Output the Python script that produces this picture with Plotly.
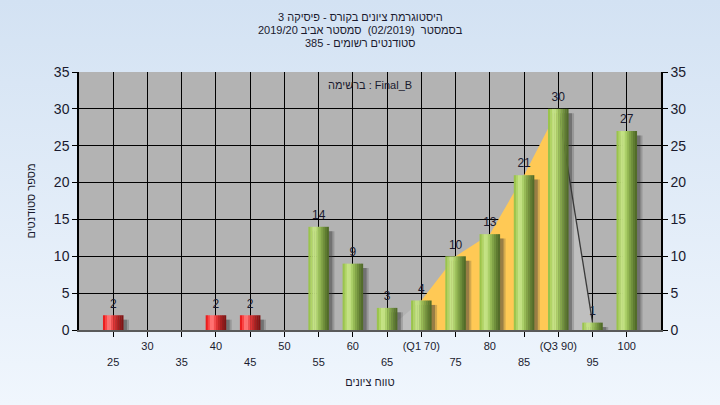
import base64
import plotly.graph_objects as go

# ---------------- data ----------------
categories = [25, 30, 35, 40, 45, 50, 55, 60, 65, 70, 75, 80, 85, 90, 95, 100]
counts = [2, 0, 0, 2, 2, 0, 14, 9, 3, 4, 10, 13, 21, 30, 1, 27]
pass_grade = 55
q1 = 70
q3 = 90

row1_vals = [30, 40, 50, 60, 70, 80, 90, 100]
row1_text = ["30", "40", "50", "60", "(Q1 70)", "80", "(Q3 90)", "100"]
row2_vals = [25, 35, 45, 55, 65, 75, 85, 95]
row2_text = ["25", "35", "45", "55", "65", "75", "85", "95"]
y_ticks = [0, 5, 10, 15, 20, 25, 30, 35]

title_lines = [
    "היסטוגרמת ציונים בקורס - פיסיקה 3",
    "בסמסטר  (02/2019)  סמסטר אביב 2019/20",
    "סטודנטים רשומים - 385",
]
list_label = "ברשימה : Final_B"
x_title = "טווח ציונים"
y_title = "מספר סטודנטים"

# ---------------- style ----------------
FONT = "Liberation Sans, Arial, sans-serif"
TXT = "#1a1a2e"
BAR_W = 3.0
green_stripes = ["#9ac44c", "#b0d466", "#c4e284", "#c2e082", "#acd06a", "#96ba56",
                 "#82a448", "#70903c", "#5f7c31", "#526c29"]
red_stripes = ["#ea1e1e", "#fa4444", "#ff7070", "#ff7272", "#f24e4e", "#dc3434",
               "#c22828", "#a81e1e", "#921818", "#801414"]

L, R, T, B = 79, 59, 72, 75
W, H = 720, 405
pw, ph = W - L - R, H - T - B

fig = go.Figure()

# ---- main subplot (x, y): interquartile area, drawn beneath the bars ----
iq_x = [c for c in categories if q1 <= c <= q3]
iq_y = [counts[categories.index(c)] for c in iq_x]
fig.add_trace(go.Scatter(x=[q1 - 5, q1], y=[0, counts[categories.index(q1)]],
                         mode="lines", line=dict(width=0), fill="tozeroy",
                         fillcolor="#bfbfbf", hoverinfo="skip", showlegend=False))
fig.add_trace(go.Scatter(x=[q3, q3 + 5],
                         y=[counts[categories.index(q3)], counts[categories.index(q3 + 5)]],
                         mode="lines", line=dict(width=1.3, color="#3a3a3a"), fill="tozeroy",
                         fillcolor="#bfbfbf", hoverinfo="skip", showlegend=False))
fig.add_trace(go.Scatter(x=iq_x, y=iq_y, mode="lines", line=dict(width=0),
                         fill="tozeroy", fillcolor="#ffc955", hoverinfo="skip", showlegend=False))

# ---- overlay subplot (x2, y2): bars, shadows, labels ----
for off, alpha in [(0.8, 0.22), (0.5, 0.38)]:
    fig.add_trace(go.Bar(x=categories, y=counts, base=[-0.6] * len(counts),
                         offset=-BAR_W / 2 + off, width=BAR_W, xaxis="x2", yaxis="y2",
                         marker=dict(color=f"rgba(55,55,55,{alpha})", line=dict(width=0)),
                         hoverinfo="skip", showlegend=False))

n = len(green_stripes)
sw = BAR_W / n
for i in range(n):
    cols = [green_stripes[i] if c >= pass_grade else red_stripes[i] for c in categories]
    w = sw + (0.04 if i < n - 1 else 0)
    fig.add_trace(go.Bar(x=categories, y=counts, offset=-BAR_W / 2 + i * sw, width=w,
                         xaxis="x2", yaxis="y2",
                         marker=dict(color=cols, line=dict(width=0)),
                         hoverinfo="skip", showlegend=False))

fig.add_trace(go.Scatter(x=categories, y=counts, mode="markers+text",
                         marker=dict(size=6, color="rgba(0,0,0,0)"),
                         text=[str(v) if v > 0 else "" for v in counts],
                         textposition="top center", xaxis="x2", yaxis="y2",
                         textfont=dict(family=FONT, size=12, color=TXT),
                         hoverinfo="skip", showlegend=False))

# page gradient background
svg = ('<svg xmlns="http://www.w3.org/2000/svg" width="720" height="405">'
       '<defs><linearGradient id="g" x1="0" y1="0" x2="0" y2="1">'
       '<stop offset="0" stop-color="#d3e2f3"/><stop offset="1" stop-color="#f0f6fd"/>'
       '</linearGradient></defs><rect width="720" height="405" fill="url(#g)"/></svg>')
src = "data:image/svg+xml;base64," + base64.b64encode(svg.encode()).decode()


def py(px):
    """pixel row (from top of page) -> paper y"""
    return 1 - (px - T) / ph


annotations = [dict(text=t, xref="paper", yref="paper", x=0.5 - 10 / pw, y=py(yy),
                    xanchor="center", yanchor="middle", showarrow=False,
                    font=dict(family=FONT, size=11, color=TXT))
               for t, yy in zip(title_lines, [17, 30, 43])]
annotations.append(dict(text=list_label, xref="paper", yref="paper", x=0.5, y=py(85),
                        xanchor="center", yanchor="middle", showarrow=False,
                        font=dict(family=FONT, size=11, color=TXT)))

axis_font = dict(family=FONT, size=11, color=TXT)
fig.update_layout(
    width=W, height=H,
    margin=dict(l=L, r=R, t=T, b=B, autoexpand=False),
    paper_bgcolor="#e2ecf8", plot_bgcolor="rgba(0,0,0,0)",
    barmode="overlay",
    font=dict(family=FONT, color=TXT),
    images=[dict(source=src, xref="paper", yref="paper", x=-L / pw, y=1 + T / ph,
                 sizex=W / pw, sizey=H / ph, sizing="stretch", layer="below",
                 xanchor="left", yanchor="top")],
    shapes=[dict(type="rect", xref="paper", yref="paper", x0=0, x1=1, y0=0, y1=1,
                 fillcolor="#b3b3b3", line=dict(width=0), layer="below")],
    xaxis=dict(range=[20, 105], tickmode="array", tickvals=categories,
               ticktext=[row1_text[row1_vals.index(c)] if c in row1_vals else "" for c in categories],
               showgrid=True, gridcolor="#000000", gridwidth=1,
               ticks="outside", ticklen=5, tickcolor="#000000",
               showline=True, linecolor="#5a5a5a", linewidth=1.5,
               tickfont=axis_font, zeroline=False, fixedrange=True),
    xaxis2=dict(range=[20, 105], overlaying="x", side="bottom", anchor="y2",
                tickmode="array", tickvals=row2_vals, ticktext=row2_text,
                ticks="outside", ticklen=5, tickcolor="rgba(0,0,0,0)",
                ticklabelstandoff=17, showgrid=False, showline=False, zeroline=False,
                tickfont=axis_font,
                title=dict(text=x_title, standoff=11, font=axis_font)),
    yaxis=dict(range=[0, 35], tickmode="array", tickvals=y_ticks,
               showgrid=True, gridcolor="#000000", gridwidth=1,
               ticks="outside", ticklen=5, tickcolor="#000000",
               showline=True, linecolor="#000000", linewidth=1.5,
               tickfont=dict(family=FONT, size=14, color=TXT), zeroline=False,
               title=dict(text=y_title, standoff=16, font=axis_font)),
    yaxis2=dict(range=[0, 35], overlaying="y", side="right", anchor="x2",
                tickmode="array", tickvals=y_ticks, showgrid=False,
                ticks="outside", ticklen=5, tickcolor="#000000",
                showline=True, linecolor="#000000", linewidth=1.5,
                tickfont=dict(family=FONT, size=14, color=TXT), zeroline=False),
    annotations=annotations,
)

fig.write_html("out.html", config={"displayModeBar": False},
               post_script="document.body.style.margin='0';"
                           "document.body.style.overflow='hidden';"
                           "document.body.style.background='#d3e2f3';")
